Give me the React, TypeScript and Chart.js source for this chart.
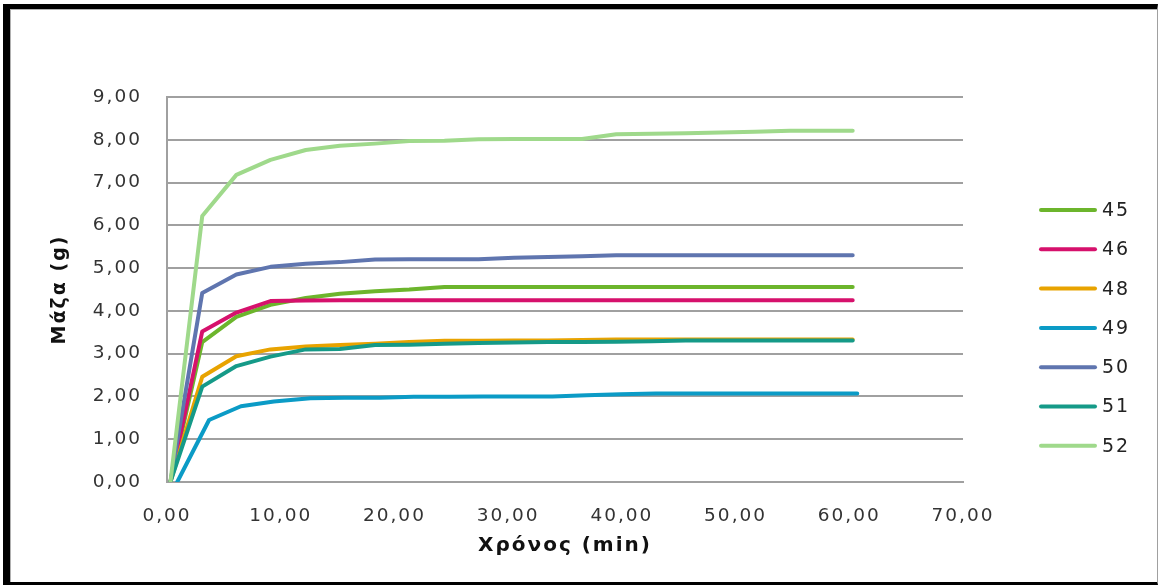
import { useEffect, useRef } from "react";
import { Chart, registerables } from "chart.js";

Chart.register(...registerables);

// ---- Data ----
const seriesNames = ["45", "46", "48", "49", "50", "51", "52"];
const seriesColors = ["#6cb52c", "#d6116c", "#e8a300", "#0b9bc6", "#5f75af", "#159a88", "#9fd98b"];

const timeMain = [0.3, 3.1, 6.1, 9.1, 12.2, 15.2, 18.3, 21.3, 24.4, 27.4, 30.5, 33.5, 36.5, 39.5, 42.6, 45.6, 48.7, 51.7, 54.8, 57.8, 60.3];
const time49 = [0.9, 3.7, 6.5, 9.4, 12.6, 15.6, 18.7, 21.7, 24.8, 27.8, 30.9, 33.9, 36.9, 39.9, 43.0, 46.0, 49.1, 52.1, 55.2, 58.2, 60.7];

const mass45 = [0, 3.27, 3.86, 4.14, 4.3, 4.4, 4.46, 4.5, 4.56, 4.56, 4.56, 4.56, 4.56, 4.56, 4.56, 4.56, 4.56, 4.56, 4.56, 4.56, 4.56];
const mass46 = [0, 3.52, 3.96, 4.23, 4.24, 4.25, 4.25, 4.25, 4.25, 4.25, 4.25, 4.25, 4.25, 4.25, 4.25, 4.25, 4.25, 4.25, 4.25, 4.25, 4.25];
const mass48 = [0, 2.46, 2.94, 3.1, 3.17, 3.2, 3.23, 3.27, 3.3, 3.3, 3.31, 3.31, 3.32, 3.33, 3.33, 3.33, 3.33, 3.33, 3.33, 3.33, 3.33];
const mass49 = [0, 1.45, 1.77, 1.88, 1.96, 1.97, 1.97, 1.99, 1.99, 2.0, 2.0, 2.0, 2.03, 2.05, 2.07, 2.07, 2.07, 2.07, 2.07, 2.07, 2.07];
const mass50 = [0, 4.42, 4.85, 5.03, 5.1, 5.14, 5.2, 5.21, 5.21, 5.21, 5.24, 5.26, 5.28, 5.3, 5.3, 5.3, 5.3, 5.3, 5.3, 5.3, 5.3];
const mass51 = [0, 2.23, 2.71, 2.93, 3.1, 3.11, 3.2, 3.21, 3.23, 3.25, 3.26, 3.27, 3.27, 3.28, 3.29, 3.31, 3.31, 3.31, 3.31, 3.31, 3.31];
const mass52 = [0, 6.22, 7.18, 7.53, 7.76, 7.86, 7.91, 7.97, 7.98, 8.01, 8.02, 8.02, 8.02, 8.13, 8.14, 8.15, 8.17, 8.19, 8.21, 8.21, 8.21];

const seriesTimes = [timeMain, timeMain, timeMain, time49, timeMain, timeMain, timeMain];
const seriesValues = [mass45, mass46, mass48, mass49, mass50, mass51, mass52];

const xTitle = "Χρόνος (min)";
const yTitle = "Μάζα (g)";
const xMin = 0, xMax = 70, xStep = 10;
const yMin = 0, yMax = 9, yStep = 1;

const LS = "2px";
const FONT = '"DejaVu Sans", Verdana, sans-serif';

const fmt = (v: number) => Number(v).toFixed(2).replace(".", ",");

const spacingPlugin = {
  id: "spacing",
  beforeLayout(chart: any) {
    (chart.ctx as any).letterSpacing = LS;
  },
  beforeDraw(chart: any) {
    (chart.ctx as any).letterSpacing = LS;
  },
};

const legendPlugin = {
  id: "sideLegend",
  afterDraw(chart: any) {
    const { ctx, chartArea } = chart;
    ctx.save();
    (ctx as any).letterSpacing = LS;
    ctx.font = `19px ${FONT}`;
    ctx.textBaseline = "middle";
    ctx.textAlign = "left";
    chart.data.datasets.forEach((ds: any, i: number) => {
      const y = chartArea.top + 113 + i * 39.3;
      const x1 = chartArea.right + 78;
      ctx.strokeStyle = ds.borderColor;
      ctx.lineWidth = 4;
      ctx.lineCap = "round";
      ctx.beginPath();
      ctx.moveTo(x1, y);
      ctx.lineTo(x1 + 54, y);
      ctx.stroke();
      ctx.fillStyle = "#222";
      ctx.fillText(ds.label, x1 + 61, y + 1);
    });
    ctx.restore();
  },
};

export default function App() {
  const ref = useRef<HTMLCanvasElement | null>(null);

  useEffect(() => {
    document.body.style.margin = "0";
    const canvas = ref.current!;
    const datasets = seriesNames.map((name, i) => ({
      label: name,
      data: seriesTimes[i].map((t, k) => ({ x: t, y: seriesValues[i][k] })),
      borderColor: seriesColors[i],
      backgroundColor: seriesColors[i],
      borderWidth: 4,
      pointRadius: 0,
      tension: 0,
      showLine: true,
      fill: false,
      borderJoinStyle: "round" as const,
      borderCapStyle: "round" as const,
      order: seriesNames.length - i,
    }));

    const chart = new Chart(canvas, {
      type: "scatter",
      data: { datasets },
      plugins: [spacingPlugin, legendPlugin],
      options: {
        animation: false,
        responsive: false,
        events: [],
        layout: { padding: { top: 97, right: 195, left: 0, bottom: 0 } },
        plugins: {
          legend: { display: false },
          tooltip: { enabled: false },
          title: { display: false },
        },
        scales: {
          x: {
            type: "linear",
            min: xMin,
            max: xMax,
            afterFit(scale: any) {
              scale.height = 103;
            },
            ticks: {
              stepSize: xStep,
              padding: 23,
              color: "#333",
              font: { family: FONT, size: 18.5 },
              callback: (v: any) => fmt(v),
              maxRotation: 0,
            },
            grid: { display: false, drawTicks: false },
            border: { display: true, color: "#a0a0a0", width: 2 },
            title: {
              display: true,
              text: xTitle,
              color: "#111",
              font: { family: FONT, size: 20, weight: "bold" },
              padding: { top: 0, bottom: 27 },
            },
          },
          y: {
            type: "linear",
            min: yMin,
            max: yMax,
            afterFit(scale: any) {
              scale.width = 167;
            },
            ticks: {
              stepSize: yStep,
              padding: 25,
              color: "#333",
              font: { family: FONT, size: 18.5 },
              callback: (v: any) => fmt(v),
            },
            grid: { color: "#a0a0a0", lineWidth: 2, drawTicks: false },
            border: { display: true, color: "#a0a0a0", width: 2 },
            title: {
              display: true,
              text: yTitle,
              color: "#111",
              font: { family: FONT, size: 19, weight: "bold" },
              padding: { top: 49, bottom: 0 },
            },
          },
        },
      },
    });
    return () => chart.destroy();
  }, []);

  return (
    <div style={{ position: "relative", width: 1158, height: 585, background: "#fff", overflow: "hidden" }}>
      <canvas ref={ref} width={1158} height={585} style={{ display: "block", width: 1158, height: 585 }} />
      <div
        style={{
          position: "absolute",
          left: 3,
          top: 4,
          width: 1158 - 3 - 1 - 7,
          height: 585 - 4 - 5 - 3,
          borderLeft: "7px solid #000",
          borderTop: "5px solid #000",
          borderBottom: "3px solid #000",
          borderRight: "1px solid #a0a0a0",
          boxShadow: "inset 1px 1px 0 #b0b0b0",
          pointerEvents: "none",
        }}
      />
    </div>
  );
}
